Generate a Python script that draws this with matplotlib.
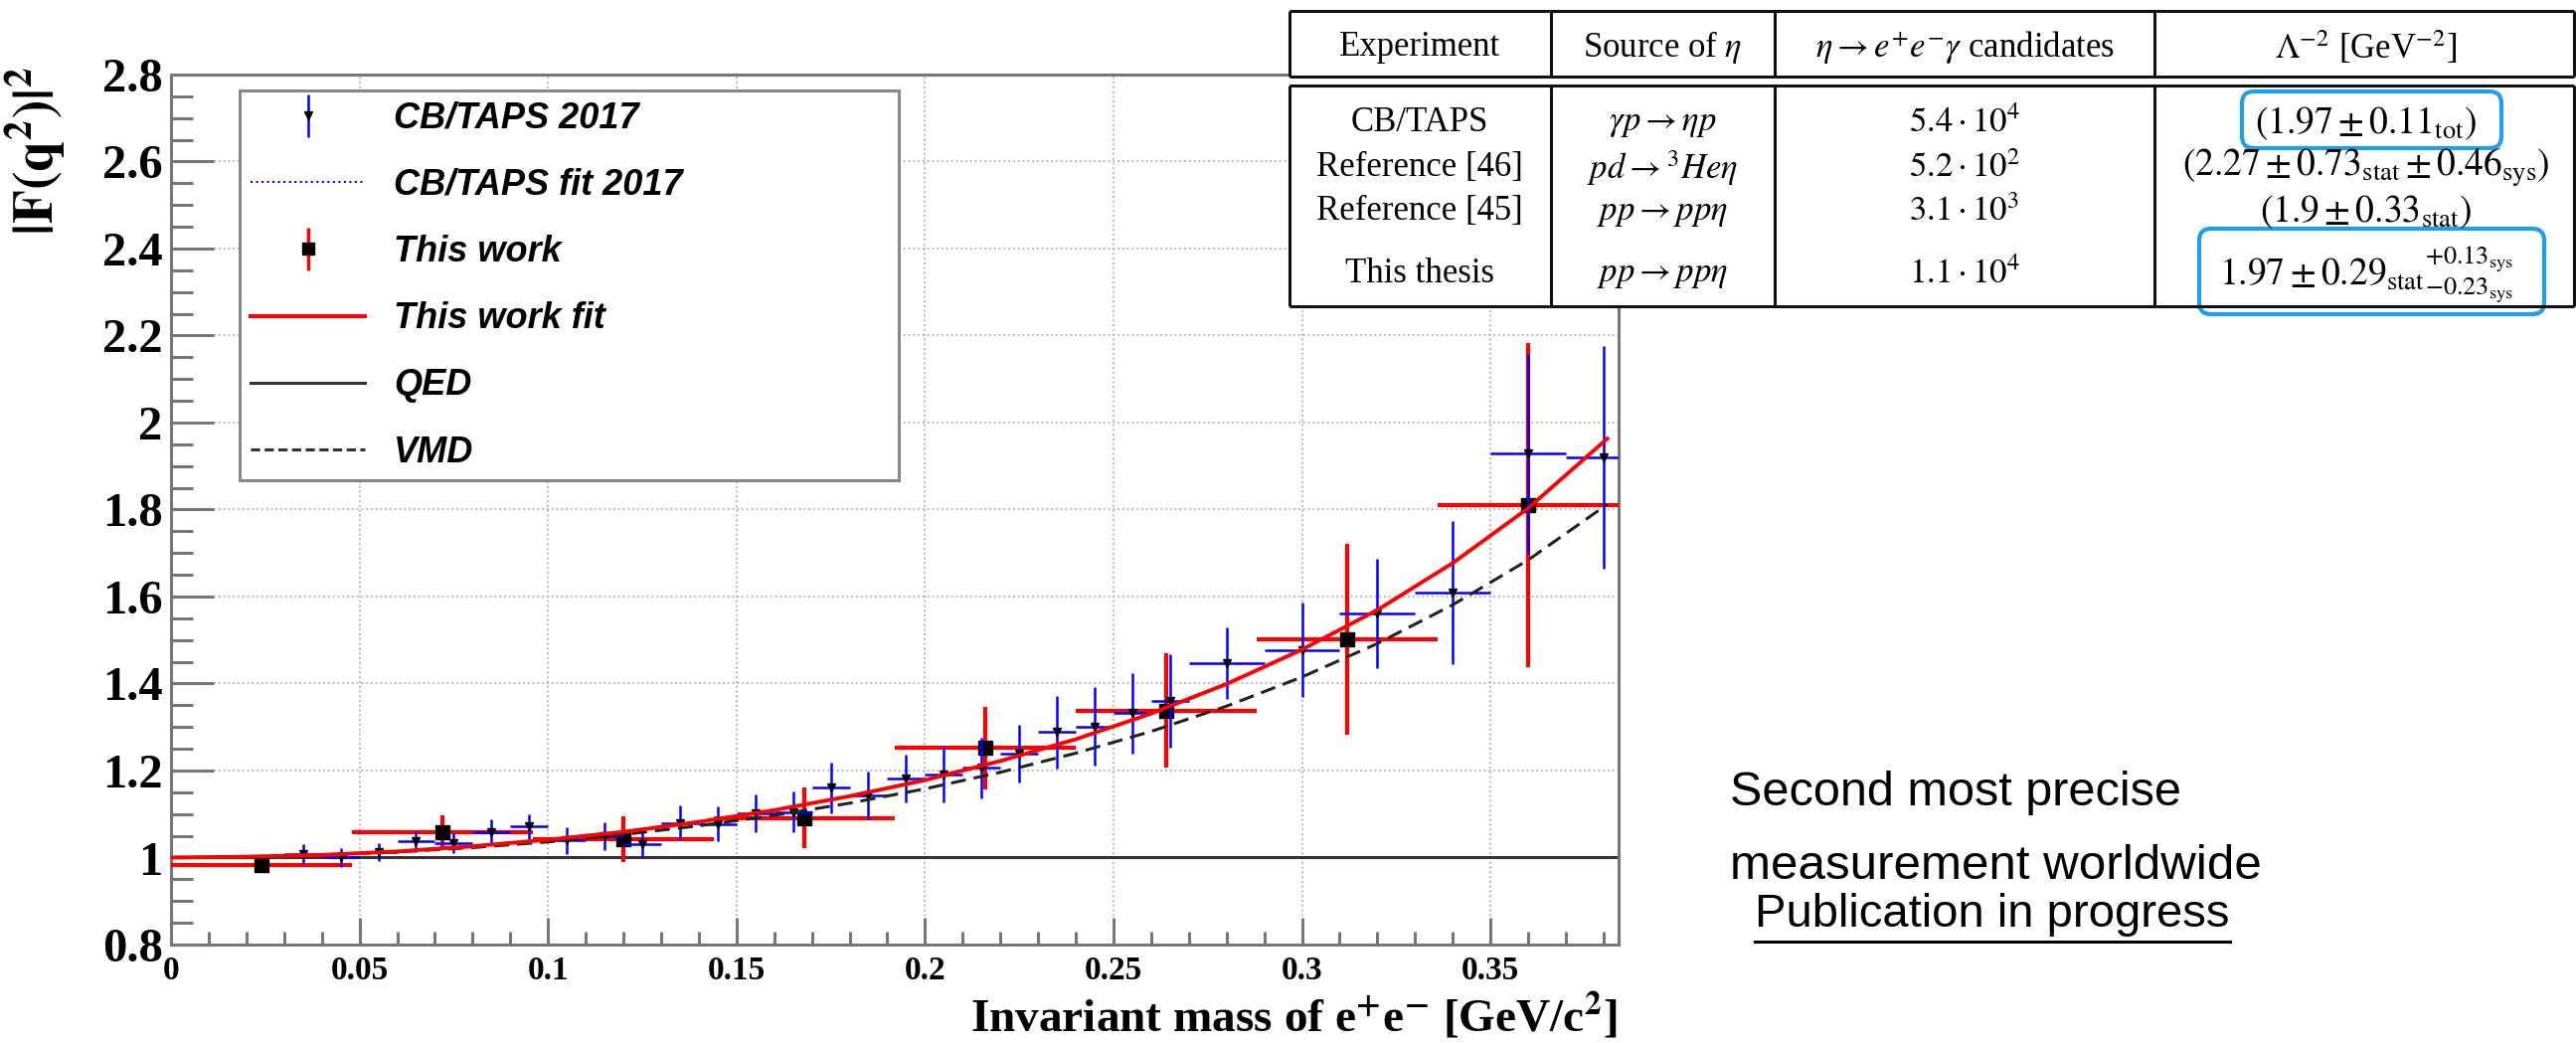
import numpy as np
import matplotlib.pyplot as plt
from matplotlib.lines import Line2D
from matplotlib.patches import FancyBboxPatch, Rectangle
from matplotlib.container import ErrorbarContainer
from matplotlib.legend_handler import HandlerErrorbar
from matplotlib.ticker import MultipleLocator

plt.rcParams['mathtext.fontset'] = 'stix'
plt.rcParams['font.family'] = 'Liberation Serif'

# CB/TAPS 2017 points
cb_x = [0.035, 0.045, 0.055, 0.065, 0.075, 0.085, 0.095, 0.105, 0.115, 0.125,
        0.135, 0.145, 0.155, 0.165, 0.175, 0.185, 0.195, 0.205, 0.215, 0.225,
        0.235, 0.245, 0.255, 0.265, 0.28, 0.30, 0.32, 0.34, 0.36, 0.38]
cb_xerr = [0.005] * 24 + [0.01] * 6
cb_y = [1.008, 1.000, 1.012, 1.037, 1.033, 1.059, 1.071, 1.039, 1.050, 1.031,
        1.079, 1.077, 1.101, 1.105, 1.160, 1.143, 1.181, 1.191, 1.206, 1.239,
        1.288, 1.301, 1.332, 1.360, 1.447, 1.477, 1.561, 1.609, 1.928, 1.920]
cb_err = [0.023, 0.022, 0.021, 0.024, 0.023, 0.028, 0.029, 0.030, 0.032, 0.030,
          0.040, 0.040, 0.043, 0.047, 0.058, 0.055, 0.055, 0.065, 0.070, 0.067,
          0.084, 0.090, 0.093, 0.107, 0.083, 0.109, 0.125, 0.165, 0.230, 0.256]

# This work
tw_x = [0.024, 0.072, 0.120, 0.168, 0.216, 0.264, 0.312, 0.360]
tw_xerr = [0.024] * 8
tw_y = [0.982, 1.058, 1.043, 1.091, 1.252, 1.338, 1.501, 1.810]
tw_err = [0.015, 0.040, 0.053, 0.069, 0.095, 0.131, 0.219, 0.373]

# fit curves
curve_x = [0.0, 0.02, 0.04, 0.06, 0.08, 0.10, 0.12, 0.14, 0.16, 0.18, 0.20,
           0.22, 0.24, 0.26, 0.28, 0.30, 0.32, 0.34, 0.36, 0.381]
fit_y = [1.000, 1.002, 1.006, 1.014, 1.026, 1.041, 1.059, 1.082, 1.109, 1.141,
         1.178, 1.222, 1.272, 1.331, 1.399, 1.478, 1.569, 1.677, 1.803, 1.963]
vmd_y = [1.000, 1.001, 1.006, 1.013, 1.023, 1.036, 1.053, 1.073, 1.097, 1.125,
         1.158, 1.196, 1.240, 1.290, 1.348, 1.415, 1.492, 1.581, 1.684, 1.812]

xticks = [0, 0.05, 0.1, 0.15, 0.2, 0.25, 0.3, 0.35]
xtick_labels = ['0', '0.05', '0.1', '0.15', '0.2', '0.25', '0.3', '0.35']
yticks = [0.8, 1.0, 1.2, 1.4, 1.6, 1.8, 2.0, 2.2, 2.4, 2.6, 2.8]
ytick_labels = ['0.8', '1', '1.2', '1.4', '1.6', '1.8', '2', '2.2', '2.4', '2.6', '2.8']

legend_labels = ['CB/TAPS 2017', 'CB/TAPS fit 2017', 'This work',
                 'This work fit', 'QED', 'VMD']

table_header = ['Experiment', r'Source of $\eta$',
                r'$\eta \rightarrow e^{+}e^{-}\gamma$ candidates',
                r'$\Lambda^{-2}$ [GeV$^{-2}$]']
table_rows = [
    ['CB/TAPS', r'$\gamma p \rightarrow \eta p$', r'$5.4\cdot 10^{4}$',
     r'$(1.97 \pm 0.11_{\rm tot})$'],
    ['Reference [46]', r'$pd \rightarrow {}^{3}He\eta$', r'$5.2\cdot 10^{2}$',
     r'$(2.27 \pm 0.73_{\rm stat} \pm 0.46_{\rm sys})$'],
    ['Reference [45]', r'$pp \rightarrow pp\eta$', r'$3.1\cdot 10^{3}$',
     r'$(1.9 \pm 0.33_{\rm stat})$'],
    ['This thesis', r'$pp \rightarrow pp\eta$', r'$1.1\cdot 10^{4}$',
     r'$1.97 \pm 0.29_{\rm stat}{}^{+0.13_{\rm sys}}_{-0.23_{\rm sys}}$'],
]

W, H = 2591, 1049
fig = plt.figure(figsize=(W / 100, H / 100), dpi=100)
ax = fig.add_axes([172 / W, 1 - 950 / H, (1628 - 172) / W, (950 - 75) / H])

ax.axhline(1.0, color='#333333', lw=2.2, zorder=2)
ax.errorbar(tw_x, tw_y, xerr=tw_xerr, yerr=tw_err, fmt='s', color='black',
            ecolor='red', elinewidth=3.0, ms=10.5, capsize=0, zorder=3)
ax.errorbar(cb_x, cb_y, xerr=cb_xerr, yerr=cb_err, fmt='v', color='black',
            ecolor='blue', elinewidth=1.8, ms=6, capsize=0, zorder=4)
ax.plot(curve_x, vmd_y, color='#222222', ls=(0, (5, 2.6)), lw=2.2, zorder=5)
ax.plot(curve_x, fit_y, color='blue', ls=':', lw=1.3, zorder=5)
ax.plot(curve_x, fit_y, color='red', lw=2.8, zorder=6)

ax.set_xlim(0, 0.384)
ax.set_ylim(0.8, 2.8)
ax.set_xticks(xticks, labels=xtick_labels, fontweight='bold')
ax.set_yticks(yticks, labels=ytick_labels, fontweight='bold')
ax.xaxis.set_minor_locator(MultipleLocator(0.01))
ax.yaxis.set_minor_locator(MultipleLocator(0.05))
ax.tick_params(which='both', direction='in', color='#777777', width=2.2,
               top=False, right=False)
ax.tick_params(axis='y', which='major', length=31, labelsize=35, pad=6)
ax.tick_params(axis='y', which='minor', length=16)
ax.tick_params(axis='x', which='major', length=19.5, labelsize=24, pad=8)
ax.tick_params(axis='x', which='minor', length=9.5)
ax.grid(True, which='major', color='#b0b0b0', ls=':', lw=1.3)
for sp in ax.spines.values():
    sp.set_color('#777777')
    sp.set_linewidth(2.2)

# legend
h1 = ax.errorbar([np.nan], [np.nan], yerr=[1], fmt='v', color='black',
                 ecolor='blue', elinewidth=1.8, ms=6)
h2 = Line2D([], [], color='blue', ls=':', lw=1.5)
h3 = ax.errorbar([np.nan], [np.nan], yerr=[1], fmt='s', color='black',
                 ecolor='red', elinewidth=2.5, ms=9)
h4 = Line2D([], [], color='red', lw=3)
h5 = Line2D([], [], color='#333333', lw=2.2)
h6 = Line2D([], [], color='#333333', ls=(0, (3, 1.5)), lw=2.2)
leg = ax.legend([h1, h2, h3, h4, h5, h6], legend_labels, loc='upper left',
                bbox_to_anchor=(0.0474, 0.5269, 0.4553, 0.4548), mode='expand',
                prop=dict(family='Liberation Sans', weight='bold',
                          style='italic', size=26),
                frameon=True, fancybox=False, edgecolor='#888888',
                framealpha=1, labelspacing=0.89, handlelength=3.2,
                handletextpad=0.8, borderpad=0.3, borderaxespad=0,
                handler_map={ErrorbarContainer: HandlerErrorbar(yerr_size=0.6)})
leg.get_frame().set_linewidth(2.2)

fig.text(1627 / W, 1 - 1047 / H,
         r'Invariant mass of e$^{\mathbf{+}}$e$^{\mathbf{-}}$ [GeV/c$^{\mathbf{2}}$]',
         ha='right', va='bottom', fontsize=34, fontweight='bold')
fig.text(36 / W, 1 - 66 / H, r'$\mathbf{|F(q^{2})|^{2}}$', rotation=90,
         ha='center', va='top', fontsize=40)

# overlay in pixel coordinates for table and notes
ov = fig.add_axes([0, 0, 1, 1], zorder=10)
ov.set_xlim(0, W)
ov.set_ylim(H, 0)
ov.axis('off')

ov.add_patch(Rectangle((1297, 11), W - 1297, 297, facecolor='white',
                       edgecolor='none'))
lk = dict(color='#111111', lw=2.2, solid_capstyle='butt')
for yy in [11, 77, 86, 308]:
    ov.plot([1297, 2589], [yy, yy], **lk)
for xx in [1297, 1560, 1785, 2167, 2589]:
    ov.plot([xx, xx], [11, 77], **lk)
    ov.plot([xx, xx], [86, 308], **lk)

col_x = [1428, 1672, 1976, 2380]
col_size = [25, 25, 25, 27]
for cx, txt in zip(col_x, table_header):
    ov.text(cx, 48, txt, ha='center', va='center', fontsize=25)
row_y = [124, 169, 213, 276]
for ry, row in zip(row_y, table_rows):
    for cx, fs, txt in zip(col_x, col_size, row):
        ov.text(cx, ry, txt, ha='center', va='center', fontsize=fs)

for (bx, by, bw, bh) in [(2255, 92, 261, 57), (2212, 230, 347, 86)]:
    ov.add_patch(FancyBboxPatch((bx, by), bw, bh,
                                boxstyle='round,pad=0,rounding_size=12',
                                facecolor='none', edgecolor='#1E9FE6', lw=3))

ov.text(1740, 810, 'Second most precise', family='Liberation Sans',
        fontsize=35, ha='left', va='baseline')
ov.text(1740, 884, 'measurement worldwide', family='Liberation Sans',
        fontsize=35.5, ha='left', va='baseline')
pub = ov.text(1765, 932, 'Publication in progress', family='Liberation Sans',
              fontsize=34, ha='left', va='baseline')
fig.canvas.draw()
bb = pub.get_window_extent().transformed(ov.transData.inverted())
ov.plot([bb.x0, bb.x1], [947, 947], color='black', lw=2.2)

fig.savefig('out.png', dpi=100)
